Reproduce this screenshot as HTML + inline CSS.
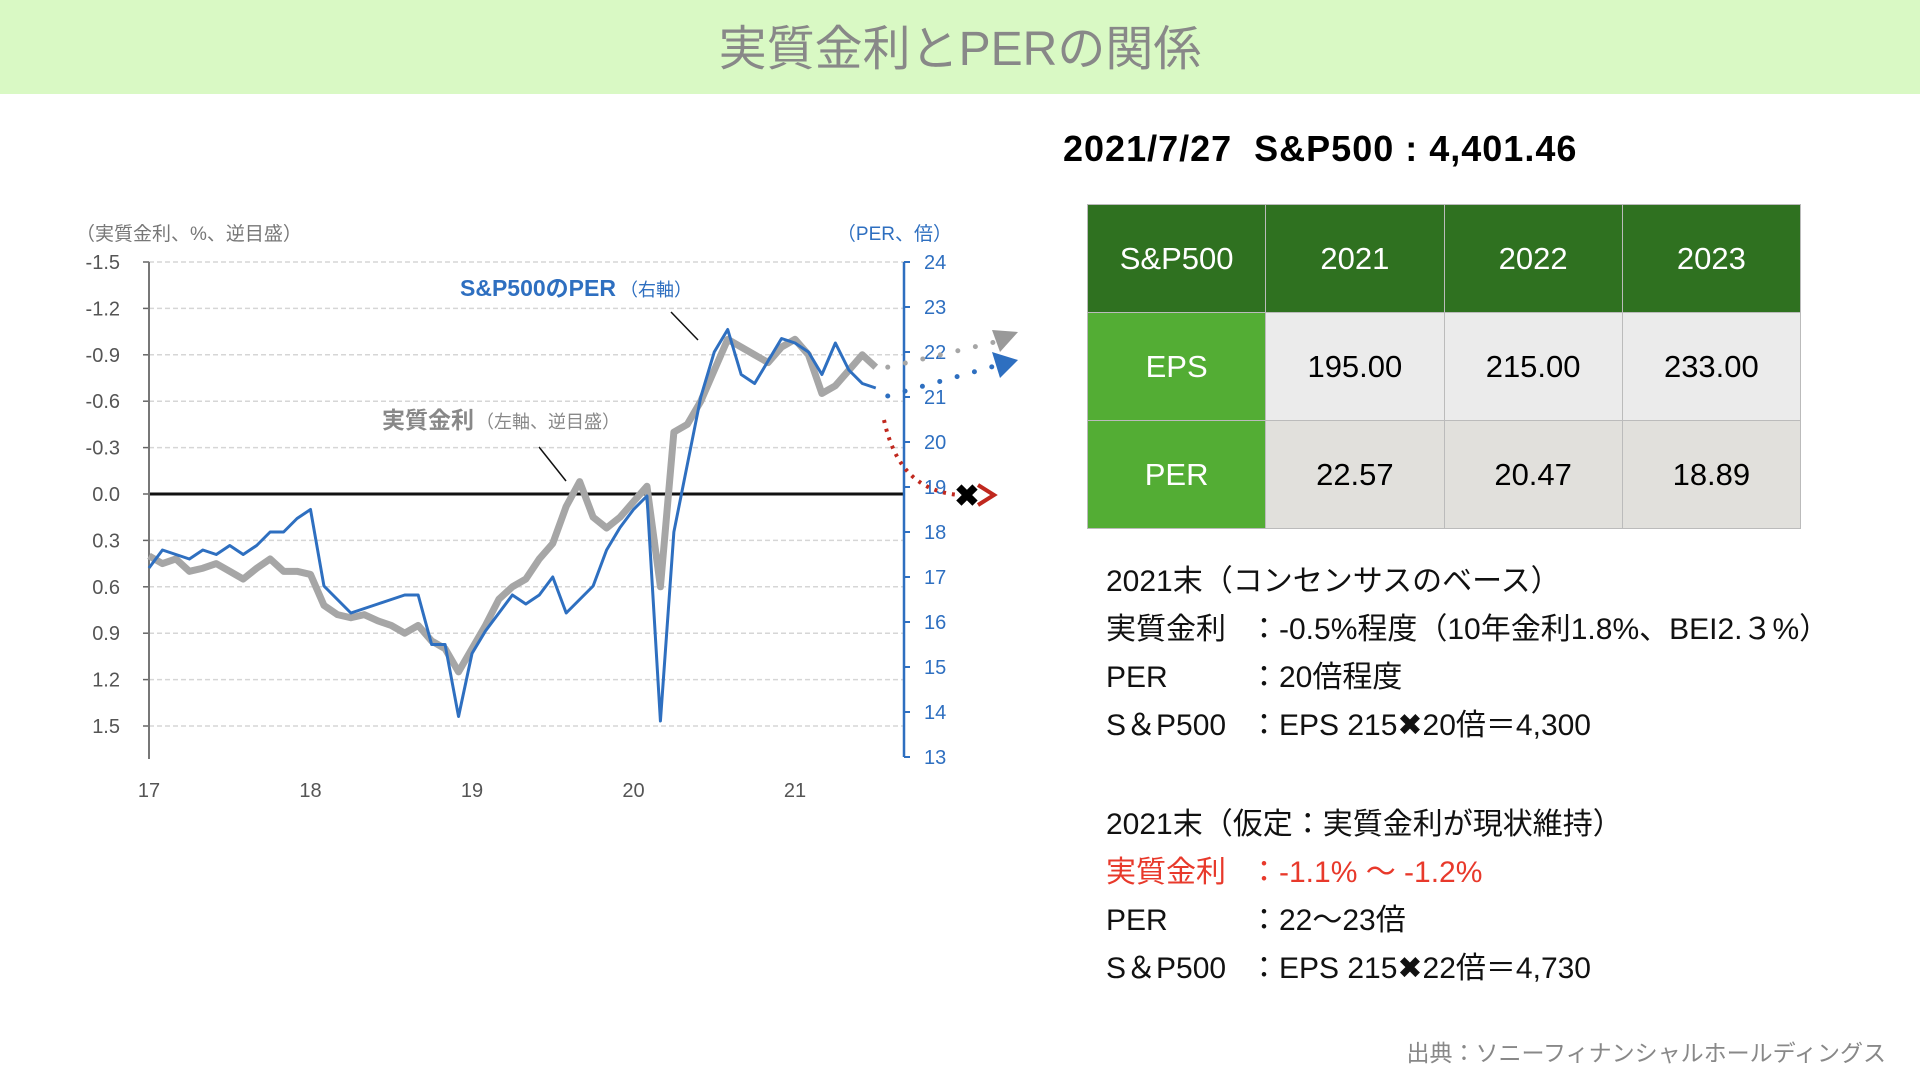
<!DOCTYPE html>
<html><head><meta charset="utf-8">
<style>
body{margin:0;width:1920px;height:1080px;background:#fff;font-family:"Liberation Sans","Noto Sans CJK JP",sans-serif;position:relative;overflow:hidden}
#title{position:absolute;left:0;top:0;width:1920px;height:94px;background:#d9f9c4;color:#888;font-size:48px;text-align:center;line-height:100px}
#head{position:absolute;left:1063px;top:128px;font-size:36px;font-weight:bold;color:#000;letter-spacing:1px}
table{position:absolute;left:1087px;top:204px;border-collapse:collapse;width:714px;height:325px}
td{border:1px solid #bbb;text-align:center;font-size:31px;width:25%}
.h td{background:#2f7120;color:#fff}
.g{background:#53ad34 !important;color:#fff}
.r1 td{background:#ebebeb}
.r2 td{background:#e1e0dc}
#notes{position:absolute;left:1106px;top:558px;font-size:30px;line-height:48px;color:#111}
.lb{display:inline-block;width:143px}
#src{position:absolute;right:34px;top:1034px;font-size:23px;color:#888}
</style></head><body>
<div id="title">実質金利とPERの関係</div>
<div id="head">2021/7/27&nbsp; S&amp;P500 : 4,401.46</div>
<table>
<tr class="h"><td>S&amp;P500</td><td>2021</td><td>2022</td><td>2023</td></tr>
<tr class="r1"><td class="g">EPS</td><td>195.00</td><td>215.00</td><td>233.00</td></tr>
<tr class="r2"><td class="g">PER</td><td>22.57</td><td>20.47</td><td>18.89</td></tr>
</table>
<div id="notes">
<div>2021末（コンセンサスのベース）</div>
<div><span class="lb">実質金利</span>：-0.5%程度（10年金利1.8%、BEI2.３%）</div>
<div><span class="lb">PER</span>：20倍程度</div>
<div><span class="lb">S＆P500</span>：EPS 215✖20倍＝4,300</div>
<div style="height:51px"></div>
<div>2021末（仮定：実質金利が現状維持）</div>
<div style="color:#e8392b"><span class="lb">実質金利</span>：-1.1% ～ -1.2%</div>
<div><span class="lb">PER</span>：22～23倍</div>
<div><span class="lb">S＆P500</span>：EPS 215✖22倍＝4,730</div>
</div>
<div id="src">出典：ソニーフィナンシャルホールディングス</div>
<svg id="chart" width="1060" height="820" style="position:absolute;left:0;top:200px" viewBox="0 200 1060 820"></svg>
<script>
const realRate=[0.4,0.45,0.42,0.5,0.48,0.45,0.5,0.55,0.48,0.42,0.5,0.5,
0.52,0.72,0.78,0.8,0.78,0.82,0.85,0.9,0.85,0.95,1.0,1.15,
1.0,0.85,0.68,0.6,0.55,0.42,0.32,0.08,-0.08,0.15,0.22,0.15,
0.05,-0.05,0.6,-0.4,-0.45,-0.6,-0.8,-1.0,-0.95,-0.9,-0.85,-0.95,
-1.0,-0.9,-0.65,-0.7,-0.8,-0.9,-0.82];
const per=[17.2,17.6,17.5,17.4,17.6,17.5,17.7,17.5,17.7,18.0,18.0,18.3,
18.5,16.8,16.5,16.2,16.3,16.4,16.5,16.6,16.6,15.5,15.5,13.9,
15.3,15.8,16.2,16.6,16.4,16.6,17.0,16.2,16.5,16.8,17.6,18.1,
18.5,18.8,13.8,18.0,19.5,21.0,22.0,22.5,21.5,21.3,21.8,22.3,
22.2,22.0,21.5,22.2,21.6,21.3,21.2];
const leftTicks=[-1.5,-1.2,-0.9,-0.6,-0.3,0.0,0.3,0.6,0.9,1.2,1.5];
const rightTicks=[24,23,22,21,20,19,18,17,16,15,14,13];
const yearLabels=["17","18","19","20","21"];
const X0=149,X1=904,YW=161.5,TOP=262,BOT=726,RTOP=262,RBOT=757;
const xm=i=>X0+i/12*YW;
const yl=v=>TOP+(v+1.5)/3*(BOT-TOP);
const yr=v=>RTOP+(24-v)/11*(RBOT-RTOP);
const s=document.getElementById('chart'),NS='http://www.w3.org/2000/svg';
function mk(t,a,txt){const e=document.createElementNS(NS,t);for(const k in a)e.setAttribute(k,a[k]);if(txt!=null)e.textContent=txt;s.appendChild(e);return e;}
leftTicks.forEach(v=>{
 const g=mk('line',{x1:X0,x2:X1,y1:yl(v),y2:yl(v),stroke:v===0?'#111':'#d6d6d6','stroke-width':v===0?3:1.5,'stroke-dasharray':v===0?'':'5,3'});
 
 
 const t=mk('text',{x:120,y:yl(v)+7,'text-anchor':'end','font-size':20,fill:'#555'},v.toFixed(1));
 
 
 mk('line',{x1:X0-6,x2:X0,y1:yl(v),y2:yl(v),stroke:'#666','stroke-width':1.5});
});
rightTicks.forEach(v=>{
 const t=mk('text',{x:924,y:yr(v)+7,'font-size':20,fill:'#2e6fc0'},v);
 
 
 mk('line',{x1:X1,x2:X1+6,y1:yr(v),y2:yr(v),stroke:'#2e6fc0','stroke-width':2});
});
yearLabels.forEach((l,i)=>{
 const t=mk('text',{x:X0+i*YW,y:797,'text-anchor':'middle','font-size':20,fill:'#555'},l);
 
 
});
mk('line',{x1:X0,x2:X0,y1:TOP,y2:759,stroke:'#777','stroke-width':2});
mk('line',{x1:X1,x2:X1,y1:RTOP,y2:RBOT,stroke:'#2e6fc0','stroke-width':2.5});
const gp=mk('polyline',{points:realRate.map((v,i)=>xm(i)+','+yl(v)).join(' '),fill:'none',stroke:'#a6a6a6','stroke-width':7,'stroke-linejoin':'round'});


const bp=mk('polyline',{points:per.map((v,i)=>xm(i)+','+yr(v)).join(' '),fill:'none',stroke:'#2e6fc0','stroke-width':3,'stroke-linejoin':'round'});


const lx=xm(realRate.length-1);
mk('line',{x1:lx+12,y1:yl(realRate[realRate.length-1]),x2:995,y2:342,stroke:'#a6a6a6','stroke-width':5,'stroke-dasharray':'0,18','stroke-linecap':'round'});
mk('polygon',{points:'992,330 1018,332 1000,352',fill:'#999'});
mk('line',{x1:lx+12,y1:yr(per[per.length-1])+8,x2:995,y2:366,stroke:'#2e6fc0','stroke-width':5,'stroke-dasharray':'0,18','stroke-linecap':'round'});
mk('polygon',{points:'992,352 1018,360 1000,378',fill:'#2e6fc0'});
mk('path',{d:'M884,420 C895,470 920,492 960,495',fill:'none',stroke:'#c0281e','stroke-width':4,'stroke-dasharray':'3,6'});
mk('path',{d:'M978,485 L994,495 L978,505',fill:'none',stroke:'#c0281e','stroke-width':4});
mk('text',{x:967,y:506,'text-anchor':'middle','font-size':30,'font-weight':'bold',fill:'#000'},'✖');
const a1=mk('text',{x:76,y:240,'font-size':19,fill:'#777'},'（実質金利、%、逆目盛）');


const a2=mk('text',{x:952,y:240,'text-anchor':'end','font-size':19,fill:'#2e6fc0'},'（PER、倍）');


const l1=mk('text',{x:460,y:296,'font-size':23,'font-weight':'bold',fill:'#2e6fc0'},'S&P500のPER');


mk('text',{x:620,y:296,'font-size':18,fill:'#2e6fc0'},'（右軸）');
mk('line',{x1:671,y1:312,x2:698,y2:340,stroke:'#111','stroke-width':1.5});
const l2=mk('text',{x:382,y:428,'font-size':23,'font-weight':'bold',fill:'#888'},'実質金利');


mk('text',{x:476,y:428,'font-size':18,fill:'#888'},'（左軸、逆目盛）');
mk('line',{x1:539,y1:447,x2:566,y2:481,stroke:'#111','stroke-width':1.5});
</script>
</body></html>
